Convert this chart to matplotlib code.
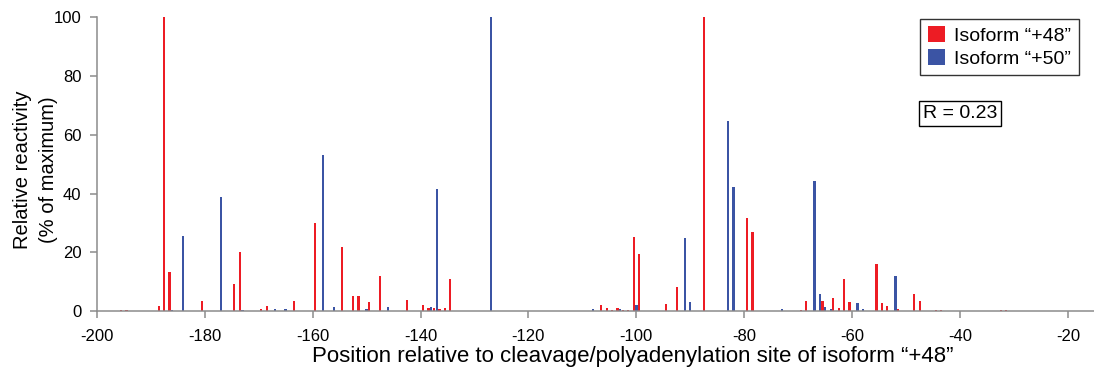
import matplotlib
matplotlib.use("Agg")
import matplotlib.pyplot as plt
from matplotlib.patches import Patch

plt.rcParams['font.family'] = ['Liberation Sans', 'DejaVu Sans']
plt.rcParams['axes.unicode_minus'] = False

# isoform "+48" (red) - positions sit half a nucleotide left of the "+50" ones
red_pos = [-195.5, -194.5, -188.5, -187.5, -186.5, -180.5, -174.5, -173.5,
           -169.5, -168.5, -163.5, -159.5, -154.5, -152.5, -151.5, -149.5,
           -147.5, -142.5, -139.5, -138.5, -137.5, -136.5, -135.5, -134.5,
           -106.5, -105.5, -104.5, -103.5, -102.5, -101.5, -100.5, -99.5,
           -94.5, -92.5, -87.5, -79.5, -78.5, -69.5, -68.5, -65.5,
           -63.5, -62.5, -61.5, -60.5, -55.5, -54.5, -53.5, -51.5,
           -48.5, -47.5, -44.5, -43.5, -32.5, -31.5]
red_val = [0.3, 0.5, 1.8, 100, 13.4, 3.5, 9.2, 20.2,
           0.6, 1.8, 3.3, 30.1, 21.7, 5.0, 5.2, 3.1,
           11.8, 3.7, 2.2, 0.9, 1.0, 0.6, 1.2, 11.0,
           1.9, 0.9, 0.3, 0.9, 0.3, 0.3, 25.1, 19.5,
           2.3, 8.3, 100, 31.6, 26.9, 0.3, 3.6, 3.3,
           4.6, 1.1, 11.0, 3.2, 16.0, 2.6, 1.6, 0.8,
           5.9, 3.6, 0.5, 0.5, 0.4, 0.4]

# isoform "+50" (blue)
blue_pos = [-186, -184, -177, -173, -167, -165, -158, -156, -150, -146,
            -138, -137, -127, -108, -103, -100, -91, -90, -83, -82,
            -73, -67, -66, -65, -64, -59, -58, -52]
blue_val = [0.5, 25.4, 38.7, 0.5, 0.6, 0.6, 53.0, 1.3, 0.6, 1.3,
            1.3, 41.5, 100, 0.6, 0.6, 1.9, 24.9, 3.1, 64.8, 42.2,
            0.6, 44.3, 5.7, 1.3, 0.6, 2.7, 0.6, 11.9]

xticks = [-200, -180, -160, -140, -120, -100, -80, -60, -40, -20]
yticks = [0, 20, 40, 60, 80, 100]

RED = '#ED1C24'
BLUE = '#3B54A4'
GREY = '#8C8C8C'

fig = plt.figure(figsize=(10.94, 3.73), dpi=100)
ax = fig.add_axes([0.0884, 0.166, 0.9116, 0.788])

ax.bar(red_pos, red_val, width=0.42, color=RED, linewidth=0)
ax.bar(blue_pos, blue_val, width=0.42, color=BLUE, linewidth=0)

ax.set_xlim(-200, -15.2)
ax.set_ylim(0, 100)
ax.set_xticks(xticks)
ax.set_yticks(yticks)

for side in ['top', 'right']:
    ax.spines[side].set_visible(False)
for side in ['left', 'bottom']:
    ax.spines[side].set_color(GREY)
    ax.spines[side].set_linewidth(1.1)
ax.tick_params(axis='both', direction='out', length=5, width=1.1,
               color=GREY, labelsize=12)
ax.tick_params(axis='x', pad=8)
ax.tick_params(axis='y', pad=6)

ax.set_xlabel('Position relative to cleavage/polyadenylation site of isoform \u201c+48\u201d',
              fontsize=16)
ax.xaxis.set_label_coords(0.537, -0.12)
ax.set_ylabel('Relative reactivity\n(% of maximum)', fontsize=14.5,
              linespacing=1.45)
ax.yaxis.set_label_coords(-0.039, 0.48)

handles = [Patch(facecolor=RED, edgecolor='none'),
           Patch(facecolor=BLUE, edgecolor='none')]
leg = ax.legend(handles, ['Isoform \u201c+48\u201d', 'Isoform \u201c+50\u201d'],
                loc='upper right', bbox_to_anchor=(0.985, 0.995),
                borderaxespad=0, fontsize=14, fancybox=False,
                handlelength=0.85, handleheight=0.85, handletextpad=0.5,
                labelspacing=0.22, borderpad=0.4)
leg.get_frame().set_edgecolor('black')
leg.get_frame().set_linewidth(1.0)

ax.text(0.866, 0.671, 'R = 0.23', transform=ax.transAxes, fontsize=14,
        ha='center', va='center',
        bbox=dict(boxstyle='square,pad=0.2', facecolor='white',
                  edgecolor='black', linewidth=1.0))

fig.savefig('out.png', dpi=100)
